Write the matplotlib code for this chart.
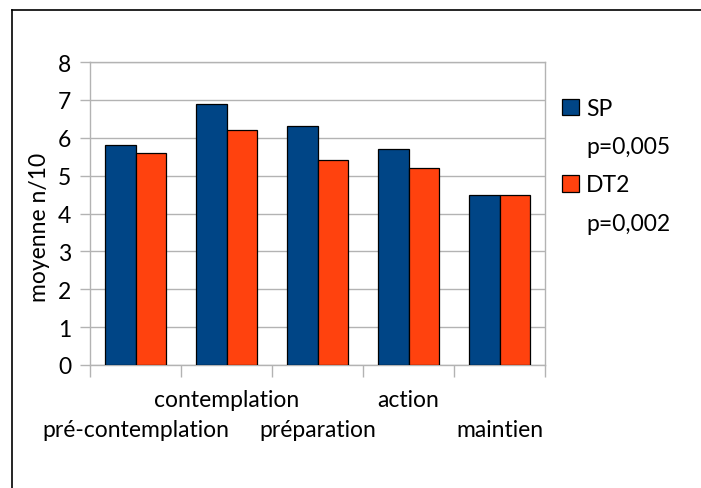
import matplotlib
matplotlib.use("Agg")
import matplotlib.pyplot as plt
import matplotlib.transforms as mtransforms
from matplotlib.patches import Rectangle
import numpy as np

categories = ["pré-contemplation", "contemplation", "préparation", "action", "maintien"]
sp_values = [5.8, 6.9, 6.3, 5.7, 4.5]
dt2_values = [5.6, 6.2, 5.4, 5.2, 4.5]
series_labels = ["SP", "DT2"]
p_labels = ["p=0,005", "p=0,002"]
yticks = [0, 1, 2, 3, 4, 5, 6, 7, 8]

plt.rcParams['font.family'] = ['Lato', 'DejaVu Sans']

W, H = 701, 489
fig = plt.figure(figsize=(W / 100, H / 100), dpi=100)
ax = fig.add_axes([90 / W, 1 - 366 / H, (545 - 90) / W, (366 - 63) / H])

blue = "#004586"
orange = "#ff420e"
grid = "#b3b3b3"
fs = 16.5

x = np.arange(len(categories))
bw = 0.33
ax.bar(x - bw / 2, sp_values, bw, color=blue, edgecolor="black", linewidth=0.9, zorder=3)
ax.bar(x + bw / 2, dt2_values, bw, color=orange, edgecolor="black", linewidth=0.9, zorder=3)

ax.set_xlim(-0.5, len(categories) - 0.5)
ax.set_ylim(0, 8)
ax.set_yticks(yticks)
ax.set_yticklabels([str(v) for v in yticks], fontsize=fs, color="black")
ax.yaxis.grid(True, color=grid, linewidth=1.0, zorder=0)
ax.tick_params(axis="y", length=7.5, color=grid, width=1.0, pad=6)

ax.set_xticks(np.arange(len(categories) + 1) - 0.5)
ax.set_xticklabels([])
ax.tick_params(axis="x", length=8.5, color=grid, width=1.0)

for s in ax.spines.values():
    s.set_color(grid)
    s.set_linewidth(1.0)

trans = mtransforms.blended_transform_factory(ax.transData, fig.transFigure)
for i, c in enumerate(categories):
    ypix = 431 if i % 2 == 0 else 401
    ax.text(i, 1 - ypix / H, c, transform=trans, ha="center", va="center",
            fontsize=fs, color="black")

fig.text(40 / W, 1 - 227 / H, "moyenne n/10", rotation=90, ha="center", va="center",
         fontsize=fs, color="black")

handles = []
labels = []
for col, lab, p in zip([blue, orange], series_labels, p_labels):
    handles.append(Rectangle((0, 0), 1, 1, facecolor=col, edgecolor="black", linewidth=0.9))
    labels.append(lab)
    handles.append(Rectangle((0, 0), 1, 1, visible=False))
    labels.append(p)
leg = ax.legend(handles, labels, loc="upper left", bbox_to_anchor=(562 / W, 1 - 99 / H),
                bbox_transform=fig.transFigure, frameon=False, fontsize=fs,
                handlelength=0.75, handleheight=0.75, handletextpad=0.3,
                labelspacing=0.75, borderpad=0, borderaxespad=0)

# outer frame lines (top and left)
fig.add_artist(plt.Line2D([11.5 / W, 1], [1 - 10.5 / H, 1 - 10.5 / H], color="black", linewidth=1.2))
fig.add_artist(plt.Line2D([11.5 / W, 11.5 / W], [0, 1 - 10.5 / H], color="black", linewidth=1.2))

fig.savefig("out.png", dpi=100)
